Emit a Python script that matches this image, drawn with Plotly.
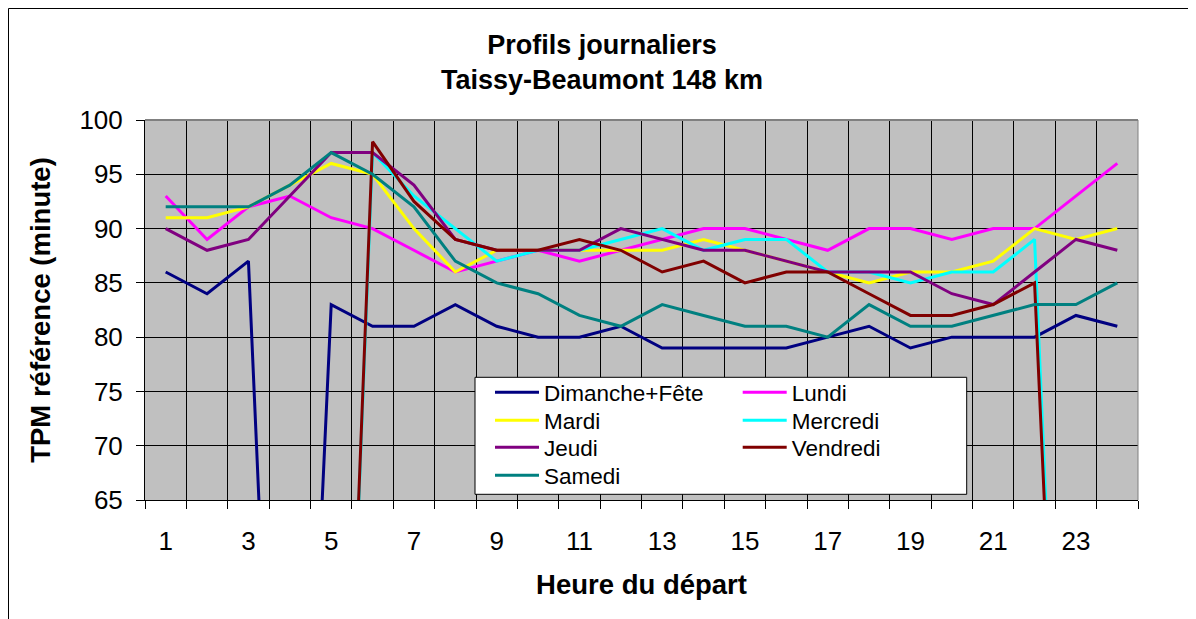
import plotly.graph_objects as go

# ---------------- data ----------------
hours = list(range(1, 25))
tick_labels = [1, 3, 5, 7, 9, 11, 13, 15, 17, 19, 21, 23]

series_names = ["Dimanche+Fête", "Lundi", "Mardi", "Mercredi", "Jeudi", "Vendredi", "Samedi"]
series_colors = ["#000080", "#FF00FF", "#FFFF00", "#00FFFF", "#800080", "#800000", "#008080"]

dimanche = [86, 84, 87, 0, 83, 81, 81, 83, 81, 80, 80, 81, 79, 79, 79, 79, 80, 81, 79, 80, 80, 80, 82, 81]
lundi = [93, 89, 92, 93, 91, 90, 88, 86, 87, 88, 87, 88, 89, 90, 90, 89, 88, 90, 90, 89, 90, 90, 93, 96]
mardi = [91, 91, 92, 94, 96, 95, 90, 86, 88, 88, 88, 88, 88, 89, 88, 87, 86, 85, 86, 86, 87, 90, 89, 90]
mercredi = [0, 0, 0, 0, 0, 97, 93, 90, 87, 88, 88, 89, 90, 88, 89, 89, 86, 86, 85, 86, 86, 89, 0, 0]
jeudi = [90, 88, 89, 93, 97, 97, 94, 89, 88, 88, 88, 90, 89, 88, 88, 87, 86, 86, 86, 84, 83, 86, 89, 88]
vendredi = [0, 0, 0, 0, 0, 98, 92.5, 89, 88, 88, 89, 88, 86, 87, 85, 86, 86, 84, 82, 82, 83, 85, 0, 0]
samedi = [92, 92, 92, 94, 97, 95, 92, 87, 85, 84, 82, 81, 83, 82, 81, 81, 80, 83, 81, 81, 82, 83, 83, 85]

series_values = [dimanche, lundi, mardi, mercredi, jeudi, vendredi, samedi]

# ---------------- layout geometry (page pixels) ----------------
OFF = 8                      # default body margin of the html page
W, H = 1196 - OFF, 619 - OFF
PL, PR, PT, PB = 145 - OFF, 1138 - OFF, 120 - OFF, 500 - OFF
FONT = "Liberation Sans, Arial, sans-serif"


def fx(x):
    """page x pixel -> paper x"""
    return (x - OFF - PL) / (PR - PL)


def fy(y):
    """page y pixel -> paper y"""
    return (PB - (y - OFF)) / (PB - PT)


legend_rows = [0, 0, 1, 1, 2, 2, 3]
legend_row_y = [392.5, 420.5, 447.5, 475.5]
legend_names = ["legend", "legend2", "legend3", "legend4"]

fig = go.Figure()
for name, color, vals, row in zip(series_names, series_colors, series_values, legend_rows):
    fig.add_trace(go.Scatter(
        x=hours, y=vals, name=name, mode="lines",
        line=dict(color=color, width=3),
        legend=legend_names[row],
    ))

legend_common = dict(
    orientation="h", xanchor="left", yanchor="middle",
    x=fx(490), bgcolor="rgba(0,0,0,0)", borderwidth=0,
    font=dict(family=FONT, size=22.5, color="black"),
    itemwidth=44, entrywidth=188.7, entrywidthmode="pixels",
    itemclick=False, itemdoubleclick=False,
)

layout_legends = {}
for i, ln in enumerate(legend_names):
    d = dict(legend_common)
    d["y"] = fy(legend_row_y[i])
    layout_legends[ln] = d

shapes = [
    # outer frame
    dict(type="rect", xref="paper", yref="paper",
         x0=fx(8.5), x1=fx(1193), y0=fy(640), y1=fy(8.5),
         line=dict(color="black", width=1), fillcolor="rgba(0,0,0,0)", layer="above"),
    # plot area border top / right (gray)
    dict(type="line", xref="paper", yref="paper", x0=0, x1=1, y0=1, y1=1,
         line=dict(color="#808080", width=2), layer="above"),
    dict(type="line", xref="paper", yref="paper", x0=1, x1=1, y0=0, y1=1,
         line=dict(color="#808080", width=1), layer="above"),
    # legend box
    dict(type="rect", xref="paper", yref="paper",
         x0=fx(475), x1=fx(966.7), y0=fy(494.3), y1=fy(377.3),
         line=dict(color="black", width=1), fillcolor="white", layer="above"),
]

fig.update_layout(
    width=W, height=H,
    margin=dict(l=PL, r=W - PR, t=PT, b=H - PB, autoexpand=False),
    paper_bgcolor="white", plot_bgcolor="#C0C0C0",
    font=dict(family=FONT, color="black"),
    title=dict(
        text="Profils journaliers<br>Taissy-Beaumont 148 km",
        xref="paper", x=fx(602), xanchor="center",
        yref="container", y=1 - (54 - OFF) / H, yanchor="middle",
        font=dict(family=FONT, size=27, color="black", weight="bold"),
    ),
    xaxis=dict(
        range=[0.5, 24.5], tickmode="array", tickvals=tick_labels,
        ticktext=[str(t) for t in tick_labels],
        ticks="", showgrid=False, zeroline=False,
        showline=True, linecolor="black", linewidth=1,
        tickfont=dict(family=FONT, size=26, color="black"),
        ticklabelstandoff=18,
        minor=dict(tickmode="linear", tick0=0.5, dtick=1, ticks="outside",
                   ticklen=8, tickcolor="black", tickwidth=1,
                   showgrid=True, gridcolor="black", gridwidth=1),
        title=dict(text="Heure du départ", standoff=19,
                   font=dict(family=FONT, size=27.5, color="black", weight="bold")),
        fixedrange=True,
    ),
    yaxis=dict(
        range=[65, 100], tickmode="linear", tick0=65, dtick=5,
        ticks="outside", ticklen=8, tickcolor="black", tickwidth=1,
        showgrid=True, gridcolor="black", gridwidth=1, zeroline=False,
        showline=True, linecolor="black", linewidth=1,
        tickfont=dict(family=FONT, size=26, color="black"),
        ticklabelstandoff=8,
        title=dict(text="TPM référence (minute)", standoff=20,
                   font=dict(family=FONT, size=27.5, color="black", weight="bold")),
        fixedrange=True,
    ),
    shapes=shapes,
    showlegend=True,
    **layout_legends,
)

fig.write_html("out.html")
